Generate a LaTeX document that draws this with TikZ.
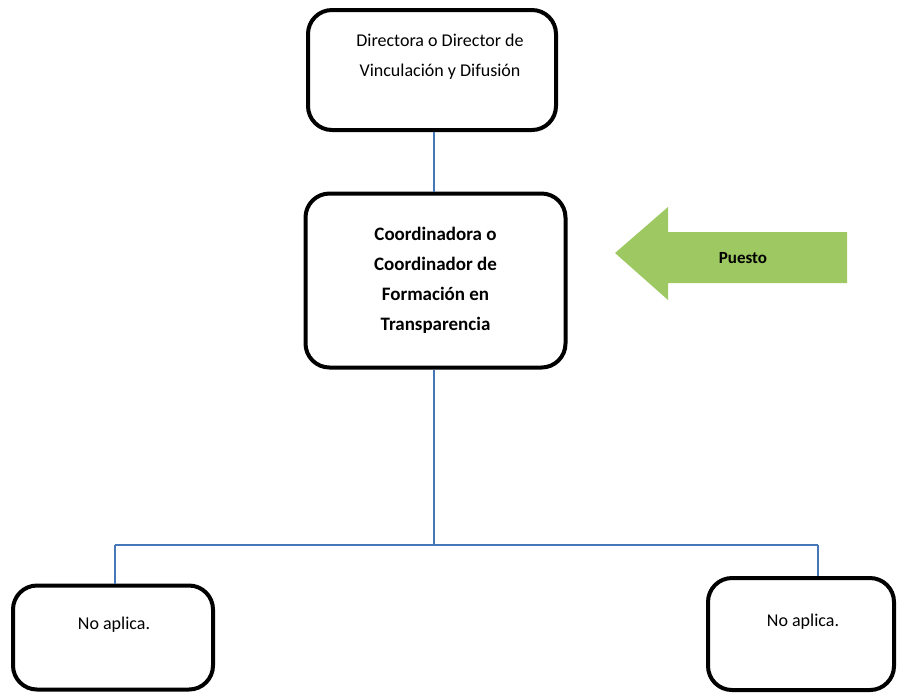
\documentclass[tikz,border=0pt]{standalone}
\usepackage{fontspec}
\setmainfont{Carlito}
\usetikzlibrary{positioning}
\definecolor{linkblue}{RGB}{70,120,185}
\definecolor{arrowgreen}{RGB}{158,200,98}
\begin{document}
\begin{tikzpicture}[x=0.5pt,y=-0.5pt,every node/.style={font=\fontsize{9}{15}\selectfont},
  box/.style={draw,line width=2pt,rounded corners=12pt,inner sep=0pt},
  link/.style={draw=linkblue,line width=.7pt}]
\useasboundingbox (0,0) rectangle (898,693);
% boxes
\node[box,minimum width=124pt,minimum height=60pt] (dir) at (432,70) {};
\node[align=center] (dirtext) at (440,57) {Directora o Director de\\Vinculación y Difusión};
\node[box,minimum width=130pt,minimum height=87pt,align=center,font=\fontsize{9.5}{15}\selectfont\bfseries] (coord) at (435.5,280.5)
  {Coordinadora o\\Coordinador de\\Formación en\\Transparencia};
\node[box,minimum width=100pt,minimum height=52pt] (left) at (113,637.5) {};
\node (lefttext) at (114,625) {No aplica.};
\node[box,minimum width=93pt,minimum height=56pt] (right) at (801,634) {};
\node (righttext) at (803,622) {No aplica.};
% connectors
\coordinate (split) at (434,545);
\coordinate (lsplit) at (115,545);
\coordinate (rsplit) at (818,545);
\draw[link] (dir.south-|split)--(coord.north-|split);
\draw[link] (coord.south-|split)--(split);
\draw[link] (lsplit)--(rsplit);
\draw[link] (lsplit)--(left.north-|lsplit);
\draw[link] (rsplit)--(right.north-|rsplit);
% arrow
\fill[arrowgreen] (615,253)--(668,207)--(668,232)--(847,232)--(847,283)--(668,283)--(668,300)--cycle;
\node[font=\fontsize{8.5}{10}\selectfont\bfseries] (puesto) at (743,258) {Puesto};
\end{tikzpicture}
\end{document}
